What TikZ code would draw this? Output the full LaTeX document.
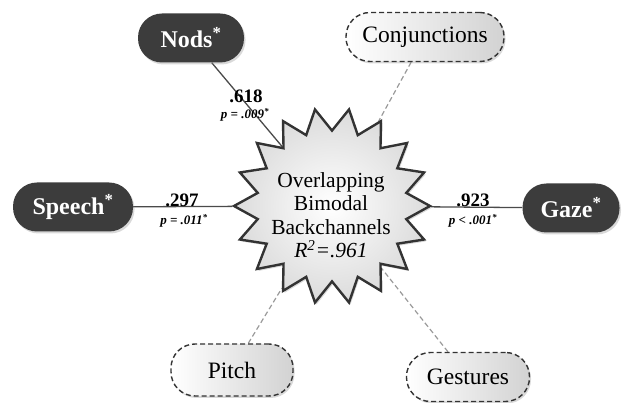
\documentclass[tikz,border=0pt]{standalone}
\usepackage{fontspec}
\setmainfont{Liberation Serif}
\usetikzlibrary{shapes.geometric,shadows,backgrounds}
\definecolor{boxdark}{HTML}{3C3C3C}
\definecolor{edgecol}{HTML}{333333}
\definecolor{linecol}{HTML}{4A4A4A}
\definecolor{dashcol}{HTML}{9A9A9A}
\begin{document}
\begin{tikzpicture}[x=1pt,y=-1pt,
  softshadow/.style={drop shadow={opacity=0.3, shadow xshift=1.5pt, shadow yshift=-2pt}},
  solidbox/.style={rounded corners=24pt, fill=boxdark, text=white,
    font=\fontsize{24}{28}\selectfont\bfseries, minimum height=49pt, inner sep=0pt, softshadow},
  dashbox/.style={rounded corners=24pt, draw=edgecol, dash pattern=on 5pt off 3pt,
    line width=1.4pt, left color=white, right color=gray!35,
    font=\fontsize{23.5}{28}\selectfont, minimum height=49pt, inner sep=0pt, softshadow},
  burst/.style={star, star points=18, star point ratio=1.3, shape border rotate=90,
    minimum size=196pt, inner sep=0pt, draw=edgecol, line width=2.4pt,
    inner color=white, outer color=gray!28, softshadow},
  solidline/.style={draw=linecol, line width=1.3pt},
  dashline/.style={draw=dashcol, line width=1.2pt, dash pattern=on 5pt off 3pt},
  numlab/.style={anchor=base, inner sep=0pt, font=\fontsize{19}{21}\selectfont\bfseries},
  plab/.style={anchor=base, inner sep=0pt, font=\fontsize{13}{15}\selectfont\bfseries\itshape}
]
\useasboundingbox (0,0) rectangle (622,403);

% centre
\node[burst] (star) at (332,206) {};
\node[align=center, inner sep=0pt, font=\fontsize{21.5}{23.5}\selectfont] (startext) at (331,215)
  {Overlapping\\Bimodal\\Backchannels\\\textit{R\textsuperscript{2}=.961}};

% solid (significant) boxes
\node[solidbox, minimum width=106pt] (nods) at (191,38) {Nods\textsuperscript{*}};
\node[solidbox, minimum width=120pt] (speech) at (73,207) {Speech\textsuperscript{*}};
\node[solidbox, minimum width=97pt] (gaze) at (571,208) {Gaze\textsuperscript{*}};

% dashed (non significant) boxes
\node[dashbox, minimum width=158pt] (conj) at (425,37) {Conjunctions};
\node[dashbox, minimum width=122pt, minimum height=52pt] (pitch) at (232,370) {Pitch};
\node[dashbox, minimum width=123pt] (gest) at (468,377) {Gestures};

% connectors
\begin{scope}[on background layer]
  \draw[solidline] (nods) -- (star);
  \draw[solidline] (speech) -- (star);
  \draw[solidline] (gaze) -- (star);
  \draw[dashline] (conj) -- (star);
  \draw[dashline] (pitch) -- (star);
  \draw[dashline] (gest) -- (star);
\end{scope}

% labels
\node[numlab] (n1) at (246,103) {.618};
\node[plab] (p1) at (245,118.5) {p = .009\textsuperscript{*}};
\node[numlab] (n2) at (182,207) {.297};
\node[plab] (p2) at (184,225) {p = .011\textsuperscript{*}};
\node[numlab] (n3) at (473,207) {.923};
\node[plab] (p3) at (473,225) {p < .001\textsuperscript{*}};
\end{tikzpicture}
\end{document}
